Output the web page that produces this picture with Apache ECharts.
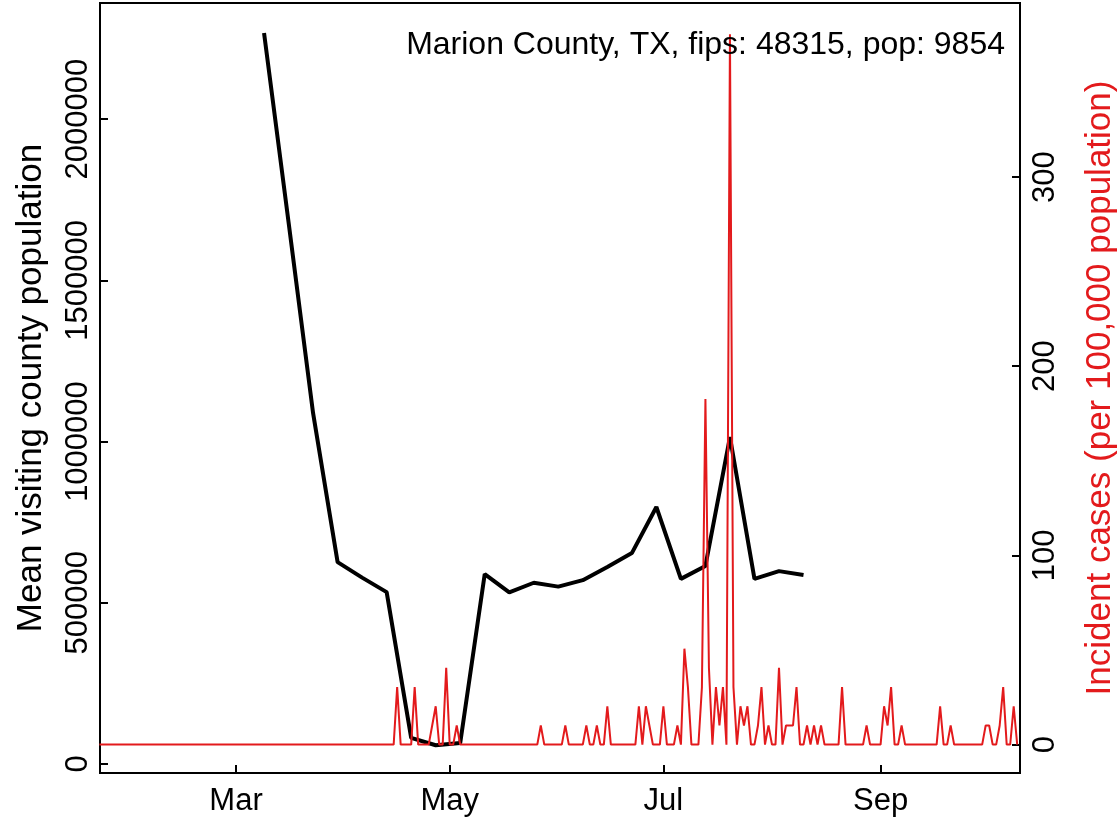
<!DOCTYPE html>
<html><head><meta charset="utf-8">
<script src="https://cdn.jsdelivr.net/npm/echarts@6/dist/echarts.min.js"></script>
<style>html,body{margin:0;padding:0;background:#fff}#c{width:1119px;height:822px}</style>
</head><body><div id="c"></div>
<script>
// ---- data ----
const blackDates = ['2020-03-09','2020-03-16','2020-03-23','2020-03-30','2020-04-06','2020-04-13','2020-04-20','2020-04-27','2020-05-04','2020-05-11','2020-05-18','2020-05-25','2020-06-01','2020-06-08','2020-06-15','2020-06-22','2020-06-29','2020-07-06','2020-07-13','2020-07-20','2020-07-27','2020-08-03','2020-08-10'];
const blackValues = [2267000,1680000,1088000,626000,578000,533000,81000,58000,65000,589000,532000,562000,550000,570000,611000,654000,797000,574000,614000,1014000,574000,598000,586000];
const redStartDate = '2020-01-22';
const redValues = [
0,0,0,0,0,0,0,0,0,0, 0,0,0,0,0,0,0,0,0,0,
0,0,0,0,0,0,0,0,0,0, 0,0,0,0,0,0,0,0,0,0,
0,0,0,0,0,0,0,0,0,0, 0,0,0,0,0,0,0,0,0,0,
0,0,0,0,0,0,0,0,0,0, 0,0,0,0,0,0,0,0,0,0,
0,0,0,0,0,30.4,0,0,0,0, 30.4,0,0,0,0,10.1,20.3,0,0,40.6,
0,0,10.1,0,0,0,0,0,0,0, 0,0,0,0,0,0,0,0,0,0,
0,0,0,0,0,0,10.1,0,0,0, 0,0,0,10.1,0,0,0,0,0,10.1,
0,0,10.1,0,0,20.3,0,0,0,0, 0,0,0,0,20.3,0,20.3,10.1,0,0,
0,20.3,0,0,0,10.1,0,50.7,30.4,0, 0,0,30.4,182.7,40.6,0,30.4,10.1,30.4,0,
375.5,30.4,0,20.3,10.1,20.3,0,0,10.1,30.4, 0,10.1,0,0,40.6,0,10.1,10.1,10.1,30.4,
0,0,10.1,0,10.1,0,10.1,0,0,0, 0,0,30.4,0,0,0,0,0,0,10.1,
0,0,0,0,20.3,10.1,30.4,0,0,10.1, 0,0,0,0,0,0,0,0,0,0,
20.3,0,0,10.1,0,0,0,0,0,0, 0,0,0,10.1,10.1,0,0,10.1,30.4,0,
0,20.3,0
];
const leftTicks = [0, 500000, 1000000, 1500000, 2000000];
const rightTicks = [0, 100, 200, 300];
const monthTicks = ['2020-03-01','2020-05-01','2020-07-01','2020-09-01'];
const monthLabels = ['Mar','May','Jul','Sep'];
const titleText = 'Marion County, TX, fips: 48315, pop: 9854';
const leftName = 'Mean visiting county population';
const rightName = 'Incident cases (per 100,000 population)';

// ---- build ----
const DAY = 86400000;
const ts = s => Date.parse(s + 'T00:00:00Z');
const t0 = ts(redStartDate);
const redData = redValues.map((v, i) => [t0 + i * DAY, v]);
const blackData = blackDates.map((d, i) => [ts(d), blackValues[i]]);
const monthTs = monthTicks.map(ts);
const FONT = "'Liberation Sans', Arial, sans-serif";
const RED = '#e31a1c';

const chart = echarts.init(document.getElementById('c'), null, {renderer: 'canvas'});
chart.setOption({
  animation: false,
  backgroundColor: '#fff',
  textStyle: {fontFamily: FONT},
  grid: {left: 100, right: 99, top: 3, bottom: 49, show: true, borderColor: '#000', borderWidth: 2,
    backgroundColor: 'transparent', outerBoundsMode: 'none', containLabel: false},
  xAxis: {
    type: 'value',
    min: t0 + 0.17 * DAY,
    max: t0 + 262.8 * DAY,
    splitLine: {show: false},
    axisLine: {show: true, onZero: false, lineStyle: {color: '#000', width: 2}},
    axisTick: {show: true, inside: true, length: 8, customValues: monthTs, lineStyle: {color: '#000', width: 2}},
    axisLabel: {show: true, customValues: monthTs, fontSize: 31, color: '#000', fontFamily: FONT, margin: 13,
      formatter: v => monthLabels[monthTs.indexOf(v)] || ''}
  },
  yAxis: [{
    type: 'value',
    position: 'left',
    min: -28000, max: 2360000,
    splitLine: {show: false},
    axisLine: {show: true, onZero: false, lineStyle: {color: '#000', width: 2}},
    axisTick: {show: true, inside: true, length: 8, customValues: leftTicks, lineStyle: {color: '#000', width: 2}},
    axisLabel: {show: true, customValues: leftTicks, rotate: 90, fontSize: 31, color: '#000', fontFamily: FONT, margin: 6,
      formatter: v => String(v)},
    name: leftName, nameLocation: 'middle', nameRotate: 90, nameGap: 51,
    nameTextStyle: {fontSize: 35, color: '#000', fontFamily: FONT}
  }, {
    type: 'value',
    position: 'right',
    min: -15, max: 392,
    splitLine: {show: false},
    axisLine: {show: true, onZero: false, lineStyle: {color: '#000', width: 2}},
    axisTick: {show: true, inside: true, length: 8, customValues: rightTicks, lineStyle: {color: '#000', width: 2}},
    axisLabel: {show: true, customValues: rightTicks, rotate: 90, fontSize: 31, color: '#000', fontFamily: FONT, margin: 10,
      formatter: v => String(v)},
    name: rightName, nameLocation: 'middle', nameRotate: 90, nameGap: 63,
    nameTextStyle: {fontSize: 35, color: RED, fontFamily: FONT}
  }],
  graphic: [{
    type: 'text', x: 1005, y: 45, z: 100,
    style: {text: titleText, fontSize: 32, fontFamily: FONT, fill: '#000', textAlign: 'right', textVerticalAlign: 'middle'}
  }],
  series: [{
    type: 'line', yAxisIndex: 0, data: blackData, showSymbol: false, symbol: 'none',
    lineStyle: {color: '#000', width: 4}, z: 2
  }, {
    type: 'line', yAxisIndex: 1, data: redData, showSymbol: false, symbol: 'none',
    lineStyle: {color: RED, width: 2}, z: 3
  }]
});
</script></body></html>
